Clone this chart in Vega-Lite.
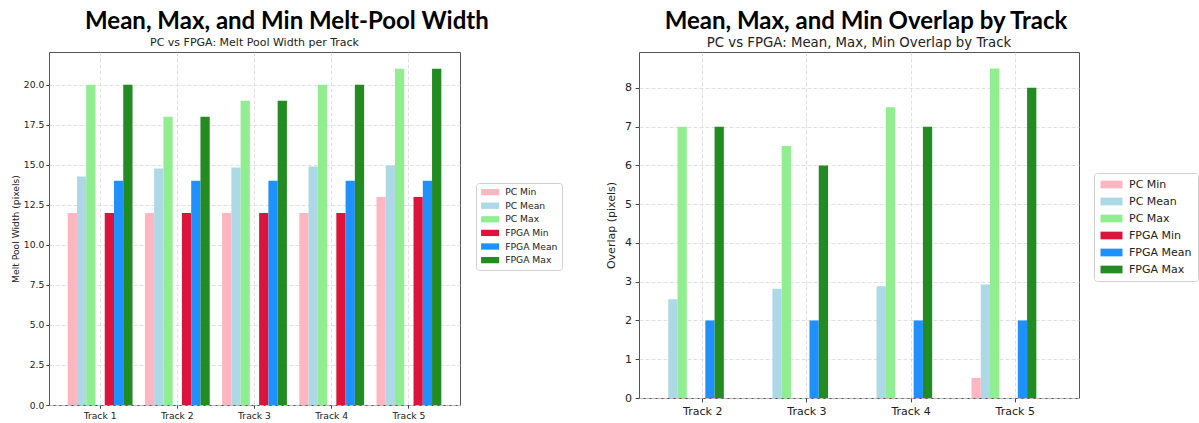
{
  "$schema": "https://vega.github.io/schema/vega-lite/v6.json",
  "background": "white",
  "padding": {"left": 10, "top": 9, "right": 0, "bottom": 0},
  "spacing": 42,
  "datasets": {
    "width": [
      {"track": "Track 1", "series": "PC Min", "value": 12},
      {"track": "Track 1", "series": "PC Mean", "value": 14.27},
      {"track": "Track 1", "series": "PC Max", "value": 20},
      {"track": "Track 1", "series": "FPGA Min", "value": 12},
      {"track": "Track 1", "series": "FPGA Mean", "value": 14},
      {"track": "Track 1", "series": "FPGA Max", "value": 20},
      {"track": "Track 2", "series": "PC Min", "value": 12},
      {"track": "Track 2", "series": "PC Mean", "value": 14.77},
      {"track": "Track 2", "series": "PC Max", "value": 18},
      {"track": "Track 2", "series": "FPGA Min", "value": 12},
      {"track": "Track 2", "series": "FPGA Mean", "value": 14},
      {"track": "Track 2", "series": "FPGA Max", "value": 18},
      {"track": "Track 3", "series": "PC Min", "value": 12},
      {"track": "Track 3", "series": "PC Mean", "value": 14.83},
      {"track": "Track 3", "series": "PC Max", "value": 19},
      {"track": "Track 3", "series": "FPGA Min", "value": 12},
      {"track": "Track 3", "series": "FPGA Mean", "value": 14},
      {"track": "Track 3", "series": "FPGA Max", "value": 19},
      {"track": "Track 4", "series": "PC Min", "value": 12},
      {"track": "Track 4", "series": "PC Mean", "value": 14.9},
      {"track": "Track 4", "series": "PC Max", "value": 20},
      {"track": "Track 4", "series": "FPGA Min", "value": 12},
      {"track": "Track 4", "series": "FPGA Mean", "value": 14},
      {"track": "Track 4", "series": "FPGA Max", "value": 20},
      {"track": "Track 5", "series": "PC Min", "value": 13},
      {"track": "Track 5", "series": "PC Mean", "value": 14.96},
      {"track": "Track 5", "series": "PC Max", "value": 21},
      {"track": "Track 5", "series": "FPGA Min", "value": 13},
      {"track": "Track 5", "series": "FPGA Mean", "value": 14},
      {"track": "Track 5", "series": "FPGA Max", "value": 21}
    ],
    "overlap": [
      {"track": "Track 2", "series": "PC Min", "value": 0},
      {"track": "Track 2", "series": "PC Mean", "value": 2.55},
      {"track": "Track 2", "series": "PC Max", "value": 7},
      {"track": "Track 2", "series": "FPGA Min", "value": 0},
      {"track": "Track 2", "series": "FPGA Mean", "value": 2},
      {"track": "Track 2", "series": "FPGA Max", "value": 7},
      {"track": "Track 3", "series": "PC Min", "value": 0},
      {"track": "Track 3", "series": "PC Mean", "value": 2.82},
      {"track": "Track 3", "series": "PC Max", "value": 6.5},
      {"track": "Track 3", "series": "FPGA Min", "value": 0},
      {"track": "Track 3", "series": "FPGA Mean", "value": 2},
      {"track": "Track 3", "series": "FPGA Max", "value": 6},
      {"track": "Track 4", "series": "PC Min", "value": 0},
      {"track": "Track 4", "series": "PC Mean", "value": 2.88},
      {"track": "Track 4", "series": "PC Max", "value": 7.5},
      {"track": "Track 4", "series": "FPGA Min", "value": 0},
      {"track": "Track 4", "series": "FPGA Mean", "value": 2},
      {"track": "Track 4", "series": "FPGA Max", "value": 7},
      {"track": "Track 5", "series": "PC Min", "value": 0.52},
      {"track": "Track 5", "series": "PC Mean", "value": 2.93},
      {"track": "Track 5", "series": "PC Max", "value": 8.5},
      {"track": "Track 5", "series": "FPGA Min", "value": 0},
      {"track": "Track 5", "series": "FPGA Mean", "value": 2},
      {"track": "Track 5", "series": "FPGA Max", "value": 8}
    ]
  },
  "resolve": {"scale": {"color": "independent"}, "legend": {"color": "independent"}},
  "config": {
    "view": {"stroke": "#555", "strokeWidth": 1},
    "axis": {
      "domain": false, "grid": true, "gridColor": "#d9d9d9", "gridDash": [4, 2], "gridWidth": 0.8,
      "tickColor": "#444", "labelColor": "#222", "titleColor": "#222",
      "labelFont": "DejaVu Sans", "titleFont": "DejaVu Sans", "titleFontWeight": "normal"
    },
    "legend": {"labelFont": "DejaVu Sans", "labelColor": "#222"}
  },
  "hconcat": [
    {
      "title": {"text": "Mean, Max, and Min Melt-Pool Width", "font": "Lato", "fontSize": 24, "fontWeight": "bold", "color": "#000", "anchor": "middle", "offset": 3},
      "resolve": {"scale": {"color": "independent"}, "legend": {"color": "independent"}},
      "vconcat": [
        {
          "title": {"text": "PC vs FPGA: Melt Pool Width per Track", "font": "DejaVu Sans", "fontSize": 11, "fontWeight": "normal", "color": "#222", "anchor": "middle", "frame": "group", "offset": 4},
          "width": 411,
          "height": 353,
          "data": {"name": "width"},
          "mark": {"type": "bar"},
          "encoding": {
            "x": {
              "field": "track", "type": "nominal",
              "scale": {"paddingInner": 0.16, "paddingOuter": 0.242},
              "axis": {"title": null, "labelAngle": 0, "bandPosition": 0.5, "labelFontSize": 9.2, "tickSize": 3.2, "labelPadding": 3}
            },
            "xOffset": {
              "field": "series", "type": "nominal",
              "scale": {"domain": ["PC Min", "PC Mean", "PC Max", "gap", "FPGA Min", "FPGA Mean", "FPGA Max"], "paddingInner": 0, "paddingOuter": 0}
            },
            "y": {
              "field": "value", "type": "quantitative",
              "scale": {"domain": [0, 22.05], "nice": false, "zero": true},
              "axis": {"title": "Melt Pool Width (pixels)", "values": [0, 2.5, 5, 7.5, 10, 12.5, 15, 17.5, 20], "format": ".1f", "labelFontSize": 9.2, "titleFontSize": 9.2, "tickSize": 3.2, "labelPadding": 2, "titlePadding": 3}
            },
            "color": {
              "field": "series", "type": "nominal",
              "scale": {"domain": ["PC Min", "PC Mean", "PC Max", "FPGA Min", "FPGA Mean", "FPGA Max"], "range": ["#FFB6C1", "#ADD8E6", "#90EE90", "#DC143C", "#1E90FF", "#228B22"]},
              "legend": {"title": null, "orient": "none", "legendX": 427, "legendY": 131, "strokeColor": "#d0d0d0", "fillColor": "white", "cornerRadius": 3, "padding": 4.5, "labelFontSize": 9.2, "symbolType": "M-2,-0.7H2V0.7H-2Z", "symbolSize": 81, "symbolOffset": 5, "symbolStrokeWidth": 0, "symbolOpacity": 1, "rowPadding": 3.6, "labelOffset": 10.5}
            }
          }
        }
      ]
    },
    {
      "title": {"text": "Mean, Max, and Min Overlap by Track", "font": "Lato", "fontSize": 24, "fontWeight": "bold", "color": "#000", "anchor": "middle", "offset": 2, "dx": -36},
      "resolve": {"scale": {"color": "independent"}, "legend": {"color": "independent"}},
      "vconcat": [
        {
          "title": {"text": "PC vs FPGA: Mean, Max, Min Overlap by Track", "font": "DejaVu Sans", "fontSize": 13.3, "fontWeight": "normal", "color": "#222", "anchor": "middle", "frame": "group", "offset": 2.5},
          "width": 440,
          "height": 346,
          "data": {"name": "overlap"},
          "mark": {"type": "bar"},
          "encoding": {
            "x": {
              "field": "track", "type": "nominal",
              "scale": {"paddingInner": 0.16, "paddingOuter": 0.192},
              "axis": {"title": null, "labelAngle": 0, "bandPosition": 0.5, "labelFontSize": 11, "tickSize": 3.9, "labelPadding": 3.5}
            },
            "xOffset": {
              "field": "series", "type": "nominal",
              "scale": {"domain": ["PC Min", "PC Mean", "PC Max", "gap", "FPGA Min", "FPGA Mean", "FPGA Max"], "paddingInner": 0, "paddingOuter": 0}
            },
            "y": {
              "field": "value", "type": "quantitative",
              "scale": {"domain": [0, 8.925], "nice": false, "zero": true},
              "axis": {"title": "Overlap (pixels)", "values": [0, 1, 2, 3, 4, 5, 6, 7, 8], "format": "d", "labelFontSize": 11, "titleFontSize": 11, "tickSize": 3.9, "labelPadding": 3.5, "titlePadding": 8}
            },
            "color": {
              "field": "series", "type": "nominal",
              "scale": {"domain": ["PC Min", "PC Mean", "PC Max", "FPGA Min", "FPGA Mean", "FPGA Max"], "range": ["#FFB6C1", "#ADD8E6", "#90EE90", "#DC143C", "#1E90FF", "#228B22"]},
              "legend": {"title": null, "orient": "none", "legendX": 455, "legendY": 121, "strokeColor": "#d0d0d0", "fillColor": "white", "cornerRadius": 3, "padding": 6, "labelFontSize": 11, "symbolType": "M-2,-0.7H2V0.7H-2Z", "symbolSize": 121, "symbolOffset": 6, "symbolStrokeWidth": 0, "symbolOpacity": 1, "rowPadding": 5, "labelOffset": 12}
            }
          }
        }
      ]
    }
  ]
}
